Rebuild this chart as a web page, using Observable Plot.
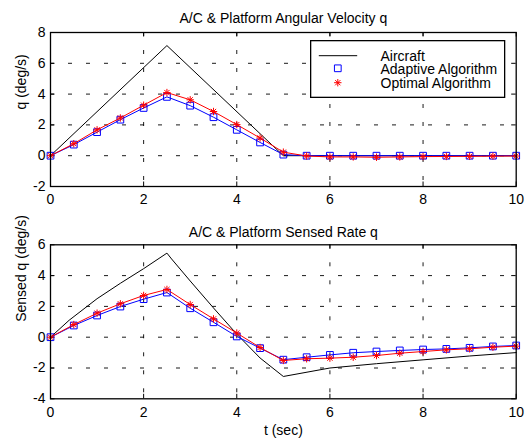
<!DOCTYPE html>
<html>
<head>
<meta charset="utf-8">
<script src="https://cdn.jsdelivr.net/npm/d3@7"></script>
<script src="https://cdn.jsdelivr.net/npm/@observablehq/plot@0.6"></script>
<style>
  body { margin: 0; background: #fff; }
  #fig { position: relative; width: 529px; height: 440px; overflow: hidden; background: #fff;
         font-family: "Liberation Sans", Arial, Helvetica, sans-serif; }
  #fig > svg { display: block; }
  #legend { position: absolute; left: 309.5px; top: 40px; }
</style>
</head>
<body>
<div id="fig"></div>
<script>
// Sample instants of the two algorithms (s)
const time = [0, 0.5, 1, 1.5, 2, 2.5, 3, 3.5, 4, 4.5, 5, 5.5, 6, 6.5, 7, 7.5, 8, 8.5, 9, 9.5, 10];

// Angular velocity q (deg/s)
const velAircraftT = [0, 2.5, 5, 10];
const velAircraft  = [0, 7.15, 0, 0];
const velAdaptive  = [0, 0.72, 1.53, 2.34, 3.1, 3.82, 3.25, 2.5, 1.68, 0.86, 0.07, 0, 0, 0, 0, 0, 0, 0, 0, 0, 0];
const velOptimal   = [0, 0.78, 1.68, 2.45, 3.28, 4.1, 3.63, 2.87, 2.02, 1.15, 0.23, -0.02, -0.08, -0.08, -0.1, -0.08, -0.06, -0.05, -0.04, -0.03, -0.02];

// Sensed rate q (deg/s)
const senAircraftT = [0, 0.4, 1, 1.5, 2, 2.5, 2.6, 3, 3.5, 4, 4.5, 5, 6, 7, 8, 9, 10];
const senAircraft  = [0, 1.1, 2.5, 3.5, 4.45, 5.46, 5.08, 3.65, 1.9, 0.2, -1.35, -2.55, -2.0, -1.72, -1.47, -1.22, -1.0];
const senAdaptive  = [0, 0.76, 1.41, 1.99, 2.47, 2.9, 1.88, 0.97, 0.05, -0.71, -1.46, -1.3, -1.15, -1.01, -0.93, -0.86, -0.8, -0.76, -0.69, -0.6, -0.54];
const senOptimal   = [0, 0.82, 1.56, 2.17, 2.71, 3.1, 2.12, 1.19, 0.27, -0.67, -1.51, -1.4, -1.36, -1.3, -1.19, -1.04, -0.93, -0.82, -0.75, -0.65, -0.58];

// Axis ticks
const xTicks = [0, 2, 4, 6, 8, 10];
const velTicks = [-2, 0, 2, 4, 6, 8];
const senTicks = [-4, -2, 0, 2, 4, 6];

const seriesNames = ["Aircraft", "Adaptive Algorithm", "Optimal Algorithm"];
const seriesColors = ["black", "blue", "red"];

const velTitle = "A/C & Platform Angular Velocity q";
const senTitle = "A/C & Platform Sensed Rate q";
const velLabel = "q (deg/s)";
const senLabel = "Sensed q (deg/s)";
const timeLabel = "t (sec)";

const FONT = '"Liberation Sans", Arial, Helvetica, sans-serif';
const WIDTH = 529;
const ML = 50, MR = 13.3;
const FRAME_H = 154, FRAME_W = WIDTH - ML - MR;
const TICK = 4.5;

// eight-armed asterisk marker
const asterisk = {
  draw(ctx, size) {
    const r = Math.sqrt(size / Math.PI);
    const d = r * Math.SQRT1_2;
    ctx.moveTo(-r, 0); ctx.lineTo(r, 0);
    ctx.moveTo(0, -r); ctx.lineTo(0, r);
    ctx.moveTo(-d, -d); ctx.lineTo(d, d);
    ctx.moveTo(-d, d); ctx.lineTo(d, -d);
  }
};

const pairs = (xs, ys) => xs.map((x, i) => ({t: x, v: ys[i]}));

function panel({height, marginTop, marginBottom, yTicks, aircraftT, aircraft, adaptive, optimal, title, ylabel, titleDy, xlabel}) {
  const ac = pairs(aircraftT, aircraft);
  const ad = pairs(time, adaptive);
  const op = pairs(time, optimal);
  const gridX = xTicks.slice(1, -1);
  const gridY = yTicks.slice(1, -1);
  const marks = [
    Plot.gridX(gridX, {stroke: "black", strokeOpacity: 1, strokeWidth: 0.9, strokeDasharray: "4,14"}),
    Plot.gridY(gridY, {stroke: "black", strokeOpacity: 1, strokeWidth: 0.9, strokeDasharray: "4,14"}),
    // inward ticks on all four sides
    Plot.tickX(xTicks, {x: d => d, stroke: "black", strokeWidth: 1, insetTop: FRAME_H - TICK}),
    Plot.tickX(xTicks, {x: d => d, stroke: "black", strokeWidth: 1, insetBottom: FRAME_H - TICK}),
    Plot.tickY(yTicks, {y: d => d, stroke: "black", strokeWidth: 1, insetRight: FRAME_W - TICK}),
    Plot.tickY(yTicks, {y: d => d, stroke: "black", strokeWidth: 1, insetLeft: FRAME_W - TICK}),
    Plot.axisX(xTicks, {tickSize: 0, tickPadding: 8, fontSize: 14, fill: "black", label: null}),
    Plot.axisY(yTicks, {tickSize: 0, tickPadding: 5, fontSize: 14, fill: "black", label: null,
                        tickFormat: d => d < 0 ? "-" + Math.abs(d) : String(d)}),
    Plot.line(ac, {x: "t", y: "v", stroke: seriesColors[0], strokeWidth: 1}),
    Plot.line(ad, {x: "t", y: "v", stroke: seriesColors[1], strokeWidth: 1}),
    Plot.dot(ad, {x: "t", y: "v", stroke: seriesColors[1], symbol: "square", r: 3.8, strokeWidth: 1}),
    Plot.line(op, {x: "t", y: "v", stroke: seriesColors[2], strokeWidth: 1}),
    Plot.dot(op, {x: "t", y: "v", stroke: seriesColors[2], symbol: asterisk, r: 3.7, strokeWidth: 1}),
    Plot.frame({stroke: "black", strokeWidth: 1.3}),
    Plot.text([title], {frameAnchor: "top", lineAnchor: "bottom", dy: titleDy, fontSize: 14, fill: "black"}),
    Plot.text([ylabel], {frameAnchor: "left", rotate: -90, dx: -29, fontSize: 14, fill: "black"})
  ];
  if (xlabel) {
    marks.push(Plot.text([xlabel], {frameAnchor: "bottom", lineAnchor: "bottom", dy: 36.5, fontSize: 14, fill: "black"}));
  }
  return Plot.plot({
    width: WIDTH,
    height,
    marginLeft: ML,
    marginRight: MR,
    marginTop,
    marginBottom,
    style: {fontFamily: FONT, fontSize: "14px", color: "black", background: "white", overflow: "visible"},
    x: {domain: [0, 10], axis: null, label: null},
    y: {domain: [yTicks[0], yTicks[yTicks.length - 1]], axis: null, label: null},
    marks
  });
}

const fig = document.getElementById("fig");

fig.append(panel({
  height: 210, marginTop: 32, marginBottom: 24, yTicks: velTicks,
  aircraftT: velAircraftT, aircraft: velAircraft, adaptive: velAdaptive, optimal: velOptimal,
  title: velTitle, ylabel: velLabel, titleDy: -9.3
}));

fig.append(panel({
  height: 230, marginTop: 34.3, marginBottom: 41.7, yTicks: senTicks,
  aircraftT: senAircraftT, aircraft: senAircraft, adaptive: senAdaptive, optimal: senOptimal,
  title: senTitle, ylabel: senLabel, titleDy: -8.3, xlabel: timeLabel
}));

// Legend box for the upper panel
const lg = d3.select(fig).append("svg")
  .attr("id", "legend")
  .attr("width", 197).attr("height", 59)
  .style("font-family", FONT).style("font-size", "14px");
lg.append("rect").attr("x", 0.65).attr("y", 0.65).attr("width", 194).attr("height", 56.7)
  .attr("fill", "white").attr("stroke", "black").attr("stroke-width", 1.3);
const rowY = [15.7, 28.3, 42.7];
const baseY = [21, 34.3, 48.3];
lg.append("line").attr("x1", 8.8).attr("x2", 47.2).attr("y1", rowY[0]).attr("y2", rowY[0])
  .attr("stroke", seriesColors[0]).attr("stroke-width", 1);
lg.append("path").attr("d", d3.symbol(d3.symbolSquare, Math.PI * 3.8 * 3.8)())
  .attr("transform", `translate(27.8,${rowY[1]})`).attr("fill", "none").attr("stroke", seriesColors[1]);
lg.append("path").attr("d", d3.symbol(asterisk, Math.PI * 3.7 * 3.7)())
  .attr("transform", `translate(27.8,${rowY[2]})`).attr("fill", "none").attr("stroke", seriesColors[2]);
seriesNames.forEach((name, i) => {
  lg.append("text").attr("x", 70.5).attr("y", baseY[i]).attr("fill", "black").text(name);
});
</script>
</body>
</html>
